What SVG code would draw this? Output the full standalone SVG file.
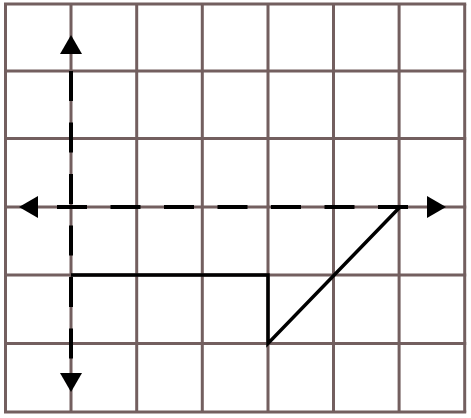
<svg xmlns="http://www.w3.org/2000/svg" width="471" height="418" viewBox="0 0 471 418">
<style>
.grid line{stroke:#735f5f;stroke-width:3}
.axis{stroke:#000;stroke-width:4;fill:none}
.shape{stroke:#000;stroke-width:3.5;fill:none;stroke-linejoin:miter}
</style>
<defs>
<marker id="ah" markerUnits="userSpaceOnUse" markerWidth="20" markerHeight="22" refX="0" refY="11" orient="auto-start-reverse" viewBox="0 0 20 22">
<path d="M0,0 L19,11 L0,22 z" fill="#000"/>
</marker>
</defs>
<rect width="471" height="418" fill="#fff"/>
<g id="grid" class="grid">
<line x1="5.5" y1="4" x2="5.5" y2="412.5"/>
<line x1="71" y1="4" x2="71" y2="412.5"/>
<line x1="136.7" y1="4" x2="136.7" y2="412.5"/>
<line x1="202.3" y1="4" x2="202.3" y2="412.5"/>
<line x1="268" y1="4" x2="268" y2="412.5"/>
<line x1="333.5" y1="4" x2="333.5" y2="412.5"/>
<line x1="399.1" y1="4" x2="399.1" y2="412.5"/>
<line x1="464.7" y1="4" x2="464.7" y2="412.5"/>
<line x1="4" y1="4" x2="466.2" y2="4"/>
<line x1="4" y1="71" x2="466.2" y2="71"/>
<line x1="4" y1="138.5" x2="466.2" y2="138.5"/>
<line x1="4" y1="207" x2="466.2" y2="207"/>
<line x1="4" y1="275" x2="466.2" y2="275"/>
<line x1="4" y1="343.5" x2="466.2" y2="343.5"/>
<line x1="4" y1="412" x2="466.2" y2="412"/>
</g>
<g id="connectors">
<line id="y-axis" class="axis" x1="71" y1="54" x2="71" y2="373" stroke-dasharray="30 21.5" stroke-dashoffset="34.5" marker-start="url(#ah)" marker-end="url(#ah)"/>
<line id="x-axis" class="axis" x1="38" y1="207" x2="427" y2="207" stroke-dasharray="30 23.5" stroke-dashoffset="34.5" marker-start="url(#ah)" marker-end="url(#ah)"/>
</g>
<g id="figure">
<path class="shape" d="M71,275 L268,275 L268,343.5 L400,207"/>
</g>
</svg>
